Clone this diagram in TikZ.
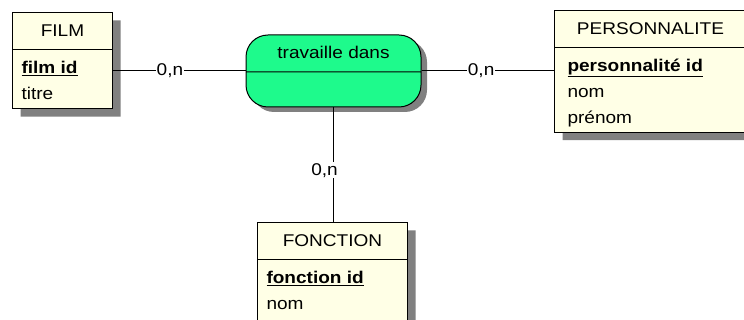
\documentclass[tikz,border=0pt]{standalone}
\usepackage{fontspec}
\setmainfont{Liberation Sans}[FakeStretch=1.12]
\usetikzlibrary{shapes.multipart, shadows}

\definecolor{entityfill}{RGB}{255,255,230}
\definecolor{relfill}{RGB}{30,250,140}
\definecolor{shadowgray}{RGB}{128,128,128}

\begin{document}
\begin{tikzpicture}[
			x=1pt, y=-1pt,
			font=\fontsize{17}{26}\selectfont,
			entity/.style={rectangle split, rectangle split parts=2,
				rectangle split part align={center,left}, align=left,
				draw, line width=1pt, fill=entityfill, inner xsep=9pt, inner ysep=5pt,
				anchor=north west,
				drop shadow={shadow xshift=8pt, shadow yshift=-8pt, fill=shadowgray, opacity=1}},
			relation/.style={rectangle split, rectangle split parts=2,
				draw, line width=1pt, fill=relfill, rounded corners=22pt, inner ysep=5pt,
				minimum width=175pt,
				drop shadow={shadow xshift=6pt, shadow yshift=-5pt, fill=shadowgray, opacity=1}},
			card/.style={fill=white, inner sep=1pt},
			link/.style={line width=1pt}
			]
			\useasboundingbox (0,0) rectangle (744,320);
			
			% Relationship
			\node[relation] (travaille) at (333.5,71)
				{\strut travaille dans \nodepart{two}\rule{0pt}{24pt}};
			
			% Entities
			\node[entity, minimum width=100pt] (film) at (12,12)
				{\strut FILM \nodepart{two}\strut\underline{\textbf{film id}}\\titre\rule[-4pt]{0pt}{0pt}};
			\node[entity, minimum width=192pt, inner xsep=13pt] (personnalite) at (554,10)
				{\strut PERSONNALITE \nodepart{two}\strut\underline{\textbf{personnalité id}}\\nom\\prénom};
			\node[entity, minimum width=150pt] (fonction) at (257,222)
				{\strut FONCTION \nodepart{two}\strut\underline{\textbf{fonction id}}\\nom\rule[-16pt]{0pt}{0pt}};
			
			% Connections
			\draw[link] (travaille.west) -- node[card, pos=0.57] {0,n} (travaille.west -| film.east);
			\draw[link] (travaille.east) -- node[card, pos=0.45] {0,n} (travaille.east -| personnalite.west);
			\draw[link] (travaille.south) -- node[card, pos=0.55, xshift=-9pt] {0,n} (travaille.south |- fonction.north);
			
		\end{tikzpicture}
\end{document}
